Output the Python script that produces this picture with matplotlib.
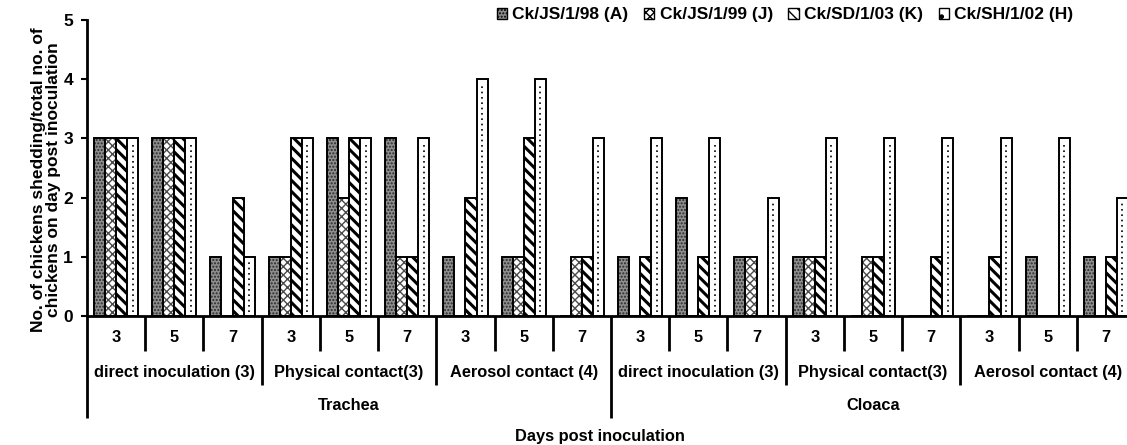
import matplotlib
matplotlib.use("Agg")
import matplotlib.pyplot as plt
import numpy as np
from matplotlib.transforms import blended_transform_factory
from matplotlib.patches import Patch

plt.rcParams['font.family'] = ['Liberation Sans', 'DejaVu Sans']
plt.rcParams['font.weight'] = 'bold'
plt.rcParams['hatch.linewidth'] = 1.0

series = ['Ck/JS/1/98 (A)', 'Ck/JS/1/99 (J)', 'Ck/SD/1/03 (K)', 'Ck/SH/1/02 (H)']
days = ['3', '5', '7']
routes = ['direct inoculation (3)', 'Physical contact(3)', 'Aerosol contact (4)']
sites = ['Trachea', 'Cloaca']

# values per group (site x route x day), order: Trachea then Cloaca
vals_A = [3, 3, 1, 1, 3, 3, 1, 1, 0, 1, 2, 1, 1, 0, 0, 0, 1, 1]
vals_J = [3, 3, 0, 1, 2, 1, 0, 1, 1, 0, 0, 1, 1, 1, 0, 0, 0, 0]
vals_K = [3, 3, 2, 3, 3, 1, 2, 3, 1, 1, 1, 0, 1, 1, 1, 1, 0, 1]
vals_H = [3, 3, 1, 3, 3, 3, 4, 4, 3, 3, 3, 2, 3, 3, 3, 3, 3, 2]

W, H = 1127, 445
fig = plt.figure(figsize=(W / 100, H / 100), dpi=100)
left_px, right_px, bottom_px, top_px = 87, 1135, 316, 20
ax = fig.add_axes([left_px / W, 1 - bottom_px / H, (right_px - left_px) / W, (bottom_px - top_px) / H])

n = len(vals_A)
x = np.arange(n) + 0.5
bw = 0.19
offs = (np.arange(4) - 1.5) * bw

# A: dark stipple
ax.bar(x + offs[0], vals_A, bw, facecolor='#8e8e8e', edgecolor='#2a2a2a', hatch='.....', linewidth=0)
ax.bar(x + offs[0], vals_A, bw, facecolor='none', edgecolor='black', linewidth=1.4)
# J: light crosshatch
ax.bar(x + offs[1], vals_J, bw, facecolor='white', edgecolor='#4a4a4a', hatch='xxxx', linewidth=0)
ax.bar(x + offs[1], vals_J, bw, facecolor='none', edgecolor='black', linewidth=1.4)
# K: dense diagonal
plt.rcParams['hatch.linewidth'] = 2.2
ax.bar(x + offs[2], vals_K, bw, facecolor='white', edgecolor='black', hatch='\\\\\\', linewidth=0)
plt.rcParams['hatch.linewidth'] = 1.0
ax.bar(x + offs[2], vals_K, bw, facecolor='none', edgecolor='black', linewidth=1.4)
# H: white with dotted centre line
ax.bar(x + offs[3], vals_H, bw, facecolor='white', edgecolor='black', linewidth=1.4)
vh = np.array(vals_H, dtype=float)
ax.vlines(x + offs[3], 0.06, vh - 0.06, colors='black', linestyles=(0, (1, 2.2)), linewidth=1.2)

ax.set_xlim(0, n)
ax.set_ylim(0, 5)
ax.set_yticks(range(6))
ax.tick_params(axis='y', direction='out', length=4, width=1.5, labelsize=12.5, pad=6)
for lbl in ax.get_yticklabels():
    lbl.set_fontweight('bold')
ax.set_xticks([])
for s in ['top', 'right']:
    ax.spines[s].set_visible(False)
ax.spines['left'].set_linewidth(2)
ax.spines['bottom'].set_linewidth(2)

tr = blended_transform_factory(ax.transData, fig.transFigure)
def fy(py):
    return 1 - py / H

# separators
for i in range(n):
    if i == 0 or i == 9:
        end = 418
    elif i % 3 == 0:
        end = 385
    else:
        end = 351
    ax.plot([i, i], [fy(bottom_px), fy(end)], transform=tr, color='black', lw=2, clip_on=False,
            solid_capstyle='butt')

fs = 11.8
# day labels
for i in range(n):
    ax.text(i + 0.5, fy(337), days[i % 3], transform=tr, ha='center', va='center', fontsize=fs,
            fontweight='bold')
# route labels
for j in range(6):
    ax.text(3 * j + 1.5, fy(372), routes[j % 3], transform=tr, ha='center', va='center', fontsize=fs,
            fontweight='bold')
# site labels
for k in range(2):
    ax.text(9 * k + 4.5, fy(405), sites[k], transform=tr, ha='center', va='center', fontsize=fs,
            fontweight='bold')

fig.text(600 / W, fy(437), 'Days post inoculation', ha='center', va='center', fontsize=fs,
         fontweight='bold')
fig.text(46 / W, fy(180), 'No. of chickens shedding/total no. of\nchickens on day post inoculation',
         rotation=90, ha='center', va='center', fontsize=12.5, fontweight='bold', linespacing=1.05)

handles = [
    Patch(facecolor='#8e8e8e', edgecolor='black', hatch='.....', linewidth=1),
    Patch(facecolor='white', edgecolor='black', hatch='xxxx', linewidth=1),
    Patch(facecolor='white', edgecolor='black', hatch='\\\\\\', linewidth=1),
    Patch(facecolor='white', edgecolor='black', hatch='.', linewidth=1),
]
fig.legend(handles, series, loc='center', bbox_to_anchor=(785 / W, fy(15)), ncol=4, frameon=False,
           handlelength=0.6, handleheight=0.6, handletextpad=0.3, columnspacing=0.9,
           prop={'size': 12.5, 'weight': 'bold'}, borderpad=0)

fig.savefig('out.png', dpi=100)
